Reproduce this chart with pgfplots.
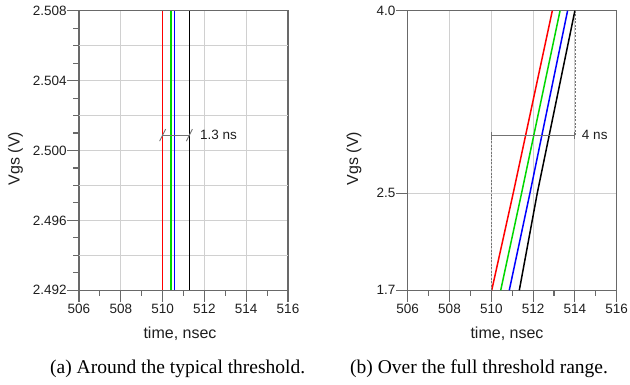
\documentclass[border=0pt]{standalone}
\usepackage{pgfplots}
\pgfplotsset{compat=1.18}
\usepackage{fontspec}
\setmainfont{Liberation Sans}
\newfontfamily\seriffont{Liberation Serif}

\definecolor{gridc}{RGB}{208,208,208}
\definecolor{axc}{RGB}{105,105,105}
\definecolor{annc}{RGB}{115,115,115}
\definecolor{cred}{RGB}{255,0,0}
\definecolor{cgreen}{RGB}{0,215,0}
\definecolor{cblue}{RGB}{0,0,255}
\definecolor{txt}{RGB}{30,30,30}

\tikzset{tk/.style={axc, line width=1.1pt}}

\pgfplotsset{
  myaxis/.style={
    scale only axis, width=209pt, height=279.6pt,
    anchor=south west,
    xmin=506, xmax=516,
    xtick={506,508,510,512,514,516},
    xtick pos=bottom, ytick pos=left,
    major tick length=0pt, minor tick length=0pt,
    xmajorgrids, ymajorgrids,
    grid style={gridc, line width=1pt},
    axis line style={axc, line width=1.3pt},
    tick label style={font=\fontsize{13.5}{14}\selectfont, text=txt},
    xticklabel shift=10.5pt, yticklabel shift=8.8pt,
    /pgf/number format/assume math mode=true,
    scaled y ticks=false,
    clip=false,
  },
}

\begin{document}
\begin{tikzpicture}
\path[use as bounding box] (0pt,0pt) rectangle (630pt,384pt);

% ---------------- (a) ----------------
\begin{axis}[myaxis, at={(79pt,93.7pt)},
  ymin=2.492, ymax=2.508,
  ytick={2.492,2.496,2.500,2.504,2.508},
  yticklabels={2.492,2.496,2.500,2.504,2.508},
  extra y ticks={2.494,2.498,2.502,2.506},
  extra y tick labels={},
  extra y tick style={grid=major},
]
\addplot[cred, line width=1.4pt] coordinates {(510.00,2.492) (510.00,2.508)};
\addplot[cblue, line width=1.4pt] coordinates {(510.56,2.492) (510.56,2.508)};
\addplot[cgreen, line width=1.4pt] coordinates {(510.41,2.492) (510.41,2.508)};
\addplot[black, line width=1.4pt] coordinates {(511.28,2.492) (511.28,2.508)};
% ticks
\pgfplotsinvokeforeach{506,508,510,512,514,516}{\draw[tk] (axis cs:#1,2.492) -- ++(0pt,-12pt);}
\pgfplotsinvokeforeach{507,509,511,513,515}{\draw[tk] (axis cs:#1,2.492) -- ++(0pt,-6pt);}
\pgfplotsinvokeforeach{2.492,2.496,2.500,2.504,2.508}{\draw[tk] (axis cs:506,#1) -- ++(-12pt,0pt);}
\pgfplotsinvokeforeach{2.493,2.494,2.495,2.497,2.498,2.499,2.501,2.502,2.503,2.505,2.506,2.507}{\draw[tk] (axis cs:506,#1) -- ++(-6pt,0pt);}
% annotation
\draw[annc, line width=0.9pt] (axis cs:510.00,2.50088) -- (axis cs:511.28,2.50088);
\draw[annc, line width=0.9pt] ([xshift=-3pt,yshift=-6pt]axis cs:510.00,2.50088) -- ++(6pt,12pt);
\draw[annc, line width=0.9pt] ([xshift=-3pt,yshift=-6pt]axis cs:511.28,2.50088) -- ++(6pt,12pt);
\node[anchor=west, inner sep=0pt, font=\fontsize{13.5}{14}\selectfont, text=txt] at (axis cs:511.79,2.50088) {1.3 ns};
\end{axis}

% ---------------- (b) ----------------
\begin{axis}[myaxis, at={(407.7pt,93.7pt)},
  ymin=1.7, ymax=4.0,
  ytick={1.7,2.5,4.0},
  yticklabels={1.7,2.5,4.0},
]
\addplot[cred, line width=1.5pt] coordinates {(510.02,1.7) (511.05,2.5) (512.92,4.0)};
\addplot[cgreen, line width=1.5pt] coordinates {(510.45,1.7) (511.45,2.5) (513.29,4.0)};
\addplot[cblue, line width=1.5pt] coordinates {(510.86,1.7) (511.85,2.5) (513.65,4.0)};
\addplot[black, line width=1.5pt] coordinates {(511.34,1.7) (512.20,2.5) (514.00,4.0)};
% ticks
\pgfplotsinvokeforeach{506,508,510,512,514,516}{\draw[tk] (axis cs:#1,1.7) -- ++(0pt,-12pt);}
\pgfplotsinvokeforeach{507,509,511,513,515}{\draw[tk] (axis cs:#1,1.7) -- ++(0pt,-6pt);}
\pgfplotsinvokeforeach{1.7,2.5,4.0}{\draw[tk] (axis cs:506,#1) -- ++(-12pt,0pt);}
% annotation
\draw[annc, line width=0.7pt, dash pattern=on 2pt off 1.5pt] (axis cs:510,1.7) -- (axis cs:510,2.975);
\draw[annc, line width=0.7pt, dash pattern=on 2pt off 1.5pt] (axis cs:514,2.975) -- (axis cs:514,4.0);
\draw[annc, line width=0.9pt] (axis cs:510,2.975) -- (axis cs:514,2.975);
\draw[annc, line width=0.9pt] ([yshift=-3.5pt]axis cs:510,2.975) -- ++(0pt,7pt);
\draw[annc, line width=0.9pt] ([yshift=-3.5pt]axis cs:514,2.975) -- ++(0pt,7pt);
\node[anchor=west, inner sep=0pt, font=\fontsize{13.5}{14}\selectfont, text=txt] at (axis cs:514.33,2.975) {4 ns};
\end{axis}

% axis labels
\node[rotate=90, anchor=center, font=\fontsize{16}{17}\selectfont, text=txt] at (15.5pt,225.5pt) {Vgs (V)};
\node[rotate=90, anchor=center, font=\fontsize{16}{17}\selectfont, text=txt] at (354pt,225.5pt) {Vgs (V)};
\node[anchor=base, inner sep=0pt, font=\fontsize{16}{17}\selectfont, text=txt] at (180pt,45.7pt) {time, nsec};
\node[anchor=base, inner sep=0pt, font=\fontsize{16}{17}\selectfont, text=txt] at (507pt,45.7pt) {time, nsec};

% captions
\node[anchor=base west, inner sep=0pt, font=\seriffont\fontsize{19.5}{21}\selectfont] at (50pt,10.7pt) {(a) Around the typical threshold.};
\node[anchor=base west, inner sep=0pt, font=\seriffont\fontsize{19.5}{21}\selectfont] at (350pt,10.7pt) {(b) Over the full threshold range.};
\end{tikzpicture}
\end{document}
